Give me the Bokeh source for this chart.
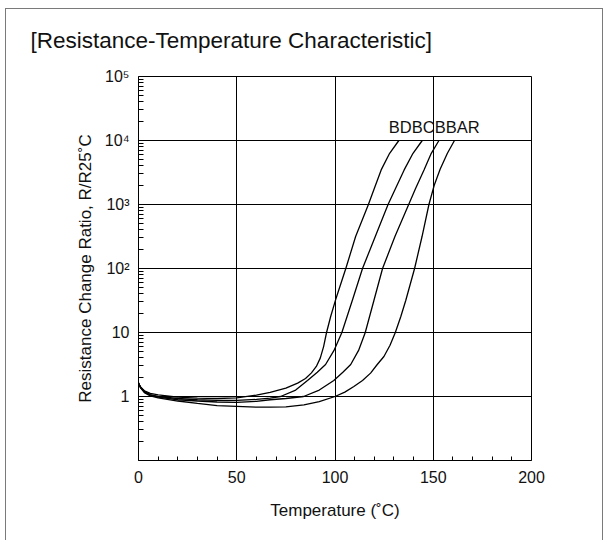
from bokeh.plotting import figure
from bokeh.models import FixedTicker, CustomJSTickFormatter, Label, Title
from bokeh.embed import file_html
from bokeh.resources import INLINE

# ---- texts ----
title_text = "[Resistance-Temperature Characteristic]"
x_label = "Temperature (˚C)"
y_label = "Resistance Change Ratio, R/R25˚C"
series_label = "BDBCBBAR"
series_label_pos = (127.4, 16200)

# ---- ticks ----
x_ticks = [0, 50, 100, 150, 200]
x_minor = [10, 20, 30, 40, 60, 70, 80, 90, 110, 120, 130, 140, 160, 170, 180, 190]
y_ticks = [0.1, 1, 10, 100, 1000, 10000, 100000]

# ---- data (temperature in degC, resistance ratio R/R25) ----
temp_bd = [0, 1, 3, 6, 10, 20, 30, 40, 50, 60, 67, 75, 81, 85, 88, 90.5, 92.5,
           94.2, 95.7, 97.8, 100.3, 105.5, 110.5, 117, 120, 123.5, 127.8, 132.5]
ratio_bd = [1.62, 1.41, 1.23, 1.12, 1.06, 0.98, 0.94, 0.93, 0.95, 1.05, 1.16, 1.35,
            1.62, 1.91, 2.34, 2.95, 3.98, 6.03, 10, 17.8, 32.4, 100, 316, 1000,
            1780, 3470, 6310, 10000]

temp_bc = [0, 1, 3, 6, 10, 20, 30, 40, 50, 60, 67, 72.3, 80, 86, 91, 95.2, 99.5,
           103.5, 108.8, 114, 120.5, 127, 130.8, 135.2, 139.7, 144.4]
ratio_bc = [1.62, 1.41, 1.20, 1.07, 1.0, 0.93, 0.89, 0.87, 0.87, 0.90, 0.94, 1.0,
            1.26, 1.78, 2.40, 3.16, 5.25, 10, 31.6, 100, 316, 1000, 1780, 3470,
            6310, 10000]

temp_bb = [0, 1, 3, 6, 10, 20, 30, 40, 50, 60, 67, 75, 84, 92, 99.4, 104, 108,
           112, 115.4, 119.8, 124.2, 130.5, 137.5, 141, 145.3, 149, 152.9]
ratio_bb = [1.62, 1.38, 1.17, 1.05, 0.98, 0.89, 0.85, 0.82, 0.81, 0.84, 0.89, 0.93,
            1.0, 1.26, 1.78, 2.40, 3.16, 5.25, 10, 31.6, 100, 316, 1000, 1780,
            3470, 6310, 10000]

temp_ar = [0, 1, 3, 6, 10, 20, 30, 40, 50, 60, 67, 75, 84.2, 92, 100, 105, 109.6,
           114, 118.1, 121.5, 124.9, 128, 130.7, 133.5, 136, 140.5, 144.3, 147.8,
           150.5, 153.5, 157.2, 160.8]
ratio_ar = [1.62, 1.38, 1.15, 1.02, 0.95, 0.85, 0.78, 0.72, 0.70, 0.68, 0.68, 0.69,
            0.74, 0.83, 1.0, 1.17, 1.43, 1.78, 2.32, 3.16, 4.22, 6.31, 10, 17.8,
            31.6, 100, 316, 1000, 2000, 3550, 6310, 10000]

series = [(temp_bd, ratio_bd), (temp_bc, ratio_bc), (temp_bb, ratio_bb), (temp_ar, ratio_ar)]

FONT = "Liberation Sans"
INK = "#111111"

p = figure(frame_width=393, frame_height=384,
           min_border_left=138, min_border_right=72,
           min_border_top=76, min_border_bottom=80,
           x_range=(0, 200), y_range=(0.1, 100000), y_axis_type="log",
           output_backend="svg", toolbar_location=None,
           background_fill_color="white", border_fill_color=None)

# outer panel frame (left, top, right edges)
p.styles = {"box-shadow": "inset 5px 0 0 0 #ffffff, inset 0 8px 0 0 #ffffff, "
                          "inset 6px 0 0 0 #7a7a7a, inset 0 9px 0 0 #7a7a7a, "
                          "inset -1px 0 0 0 #7a7a7a"}

p.title = Title(text=title_text, align="left", offset=-108, standoff=48,
                text_font=FONT, text_font_size="22.5px", text_color=INK,
                text_font_style="normal")

p.outline_line_color = "black"
p.outline_line_alpha = 1.0
p.outline_line_width = 1

# axes
p.xaxis.ticker = FixedTicker(ticks=x_ticks, minor_ticks=x_minor)
y_minor = [m * t for t in y_ticks[:-1] for m in range(2, 10)]
p.yaxis.ticker = FixedTicker(ticks=y_ticks, minor_ticks=y_minor)
p.yaxis.formatter = CustomJSTickFormatter(code="""
    const e = Math.round(Math.log10(tick));
    if (e < 0) return "";
    if (e == 0) return "1";
    if (e == 1) return "10";
    const sup = {2: "\u00b2", 3: "\u00b3", 4: "\u2074", 5: "\u2075"};
    return "10" + sup[e];
""")

for ax in (p.xaxis, p.yaxis):
    ax.axis_line_color = "black"
    ax.major_tick_in = 0
    ax.major_tick_out = 0
    ax.minor_tick_out = 0
    ax.minor_tick_line_color = "black"
    ax.major_label_text_font = FONT
    ax.major_label_text_font_size = "16px"
    ax.major_label_text_color = INK
    ax.axis_label_text_font = FONT
    ax.axis_label_text_font_size = "17px"
    ax.axis_label_text_font_style = "normal"
    ax.axis_label_text_color = INK

p.xaxis.minor_tick_in = 4
p.yaxis.minor_tick_in = 5
p.xaxis.major_label_standoff = 10
p.yaxis.major_label_standoff = 9
p.xaxis.axis_label = x_label
p.yaxis.axis_label = y_label
p.xaxis.axis_label_standoff = 15
p.yaxis.axis_label_standoff = 7

# grid
for g in (p.xgrid, p.ygrid):
    g.grid_line_color = "black"
    g.grid_line_alpha = 1.0
    g.grid_line_width = 1

# curves
for t, r in series:
    p.line(t, r, line_color="black", line_width=1.3)

# series label
p.add_layout(Label(x=series_label_pos[0], y=series_label_pos[1], text=series_label,
                   text_font=FONT, text_font_size="16.5px", text_color=INK,
                   text_baseline="alphabetic"))

open("out.html", "w").write(file_html(p, INLINE))
